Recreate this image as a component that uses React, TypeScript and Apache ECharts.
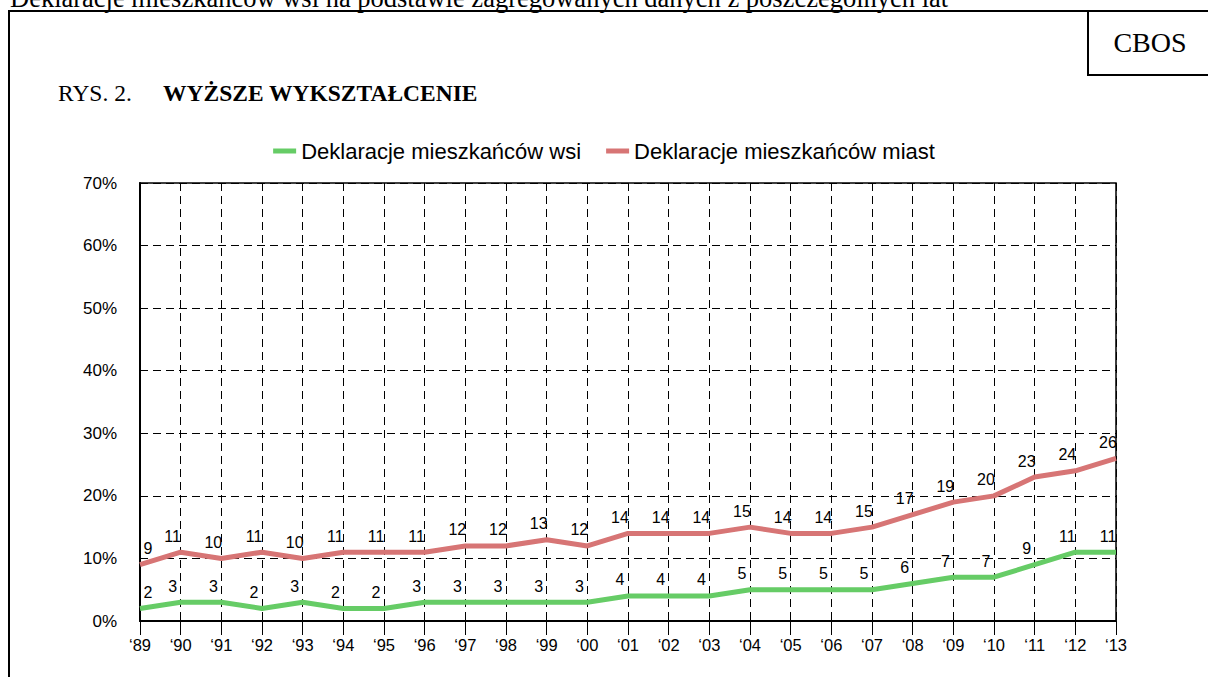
import React, { useEffect, useRef } from "react";
import * as echarts from "echarts";

const years = ["‘89","‘90","‘91","‘92","‘93","‘94","‘95","‘96","‘97","‘98","‘99","‘00","‘01","‘02","‘03","‘04","‘05","‘06","‘07","‘08","‘09","‘10","‘11","‘12","‘13"];
const wsi = [2,3,3,2,3,2,2,3,3,3,3,3,4,4,4,5,5,5,5,6,7,7,9,11,11];
const miast = [9,11,10,11,10,11,11,11,12,12,13,12,14,14,14,15,14,14,15,17,19,20,23,24,26];
const seriesNames = ["Deklaracje mieszkańców wsi", "Deklaracje mieszkańców miast"];
const topText = "Deklaracje mieszkańców wsi na podstawie zagregowanych danych z poszczególnych lat";
const figLabel = "RYS. 2.";
const figTitle = "WYŻSZE WYKSZTAŁCENIE";
const sourceLabel = "CBOS";

const GREEN = "#66CC66";
const RED = "#D77575";

function buildData(values: number[]) {
  return values.map((v, i) =>
    i === 0 ? { value: v, label: { offset: [8, 0] } } : { value: v }
  );
}

export default function App() {
  const ref = useRef<HTMLDivElement>(null);
  useEffect(() => {
    if (!ref.current) return;
    const chart = echarts.init(ref.current, null, { renderer: "svg" });
    const serif = "'Liberation Serif', 'Times New Roman', serif";
    const sans = "'Liberation Sans', Arial, sans-serif";
    const labelCfg = {
      show: true,
      position: "top",
      distance: 8,
      offset: [-8, 0],
      color: "#000",
      fontSize: 16,
      fontFamily: sans,
    };
    chart.setOption({
      animation: false,
      backgroundColor: "#fff",
      textStyle: { fontFamily: sans },
      graphic: [
        {
          type: "text",
          x: 10,
          y: -2,
          style: { text: topText, fontFamily: serif, fontSize: 26.5, fill: "#000", verticalAlign: "middle" },
        },
        {
          type: "rect",
          shape: { x: 9, y: 11, width: 1400, height: 900 },
          style: { fill: "none", stroke: "#000", lineWidth: 2 },
        },
        {
          type: "rect",
          shape: { x: 1088, y: 11, width: 300, height: 64 },
          style: { fill: "#fff", stroke: "#000", lineWidth: 2 },
        },
        {
          type: "text",
          x: 1150,
          y: 42,
          style: { text: sourceLabel, fontFamily: serif, fontSize: 28, fill: "#000", align: "center", verticalAlign: "middle" },
        },
        {
          type: "text",
          x: 58,
          y: 93,
          style: { text: figLabel, fontFamily: serif, fontSize: 23.5, fill: "#000", verticalAlign: "middle" },
        },
        {
          type: "text",
          x: 163,
          y: 93,
          style: { text: figTitle, fontFamily: serif, fontSize: 23.5, fontWeight: "bold", fill: "#000", verticalAlign: "middle" },
        },
      ],
      legend: {
        top: 135,
        left: "center",
        icon: "rect",
        itemWidth: 23,
        itemHeight: 5,
        itemGap: 25,
        textStyle: { fontSize: 22, color: "#000", fontFamily: sans },
        data: seriesNames,
      },
      grid: {
        left: 140,
        right: 92,
        top: 183,
        bottom: 56,
        show: true,
        borderColor: "#000",
        borderWidth: 1.5,
        containLabel: false,
      },
      xAxis: {
        type: "category",
        data: years,
        boundaryGap: false,
        axisLine: { show: true, lineStyle: { color: "#000", width: 2 } },
        axisTick: { show: true, length: 14, lineStyle: { color: "#000", width: 1 } },
        axisLabel: { color: "#000", fontSize: 16.5, margin: 15, fontFamily: sans },
        splitLine: { show: true, lineStyle: { color: "#000", type: [8, 5], width: 1 } },
      },
      yAxis: {
        type: "value",
        min: 0,
        max: 70,
        interval: 10,
        axisLine: { show: true, lineStyle: { color: "#000", width: 2 } },
        axisTick: { show: false },
        axisLabel: { color: "#000", fontSize: 17, margin: 23, formatter: "{value}%", fontFamily: sans },
        splitLine: { show: true, lineStyle: { color: "#000", type: [8, 5], width: 1 } },
      },
      series: [
        {
          name: seriesNames[0],
          type: "line",
          data: buildData(wsi),
          showSymbol: true,
          symbol: "circle",
          symbolSize: 0,
          color: GREEN,
          itemStyle: { color: GREEN },
          lineStyle: { color: GREEN, width: 5 },
          label: labelCfg,
          z: 3,
        },
        {
          name: seriesNames[1],
          type: "line",
          data: buildData(miast),
          showSymbol: true,
          symbol: "circle",
          symbolSize: 0,
          color: RED,
          itemStyle: { color: RED },
          lineStyle: { color: RED, width: 5 },
          label: labelCfg,
          z: 3,
        },
      ],
    });
    return () => chart.dispose();
  }, []);
  return (
    <div
      ref={ref}
      style={{ position: "fixed", left: 0, top: 0, width: 1208, height: 677, background: "#fff" }}
    />
  );
}
